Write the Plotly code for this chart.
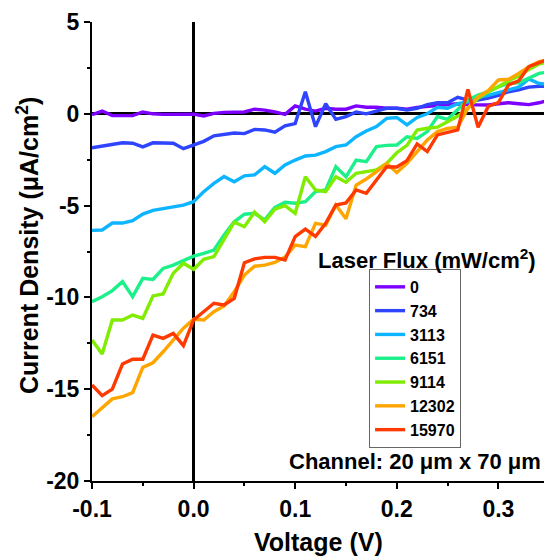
import plotly.graph_objects as go

voltage = [round(-0.10 + 0.01 * i, 2) for i in range(46)]

j_0 = [-0.05, 0.15, -0.1, -0.12, -0.1, 0.1, 0.0, -0.03, -0.03, -0.02,
       -0.02, -0.12, 0.02, 0.08, 0.1, 0.1, 0.25, 0.2, 0.1, -0.03,
       0.43, 0.25, 0.15, 0.3, 0.25, 0.25, 0.43, 0.36, 0.36, 0.3,
       0.3, 0.25, 0.35, 0.4, 0.45, 0.5, 0.55, 0.5, 0.48, 0.48,
       0.55, 0.6, 0.55, 0.5, 0.6, 0.75]
j_734 = [-1.85, -1.75, -1.68, -1.58, -1.6, -1.8, -1.58, -1.58, -1.6, -1.9,
         -1.72, -1.5, -1.2, -1.12, -1.05, -1.08, -0.85, -0.88, -1.0, -0.66,
         -0.53, 1.2, -0.7, 0.55, -0.3, -0.15, 0.1, 0.0, 0.15, 0.3,
         0.3, 0.2, 0.3, 0.5, 0.6, 0.6, 0.9, 0.75, 0.75, 0.85,
         1.0, 1.2, 1.3, 1.45, 1.5, 1.5]
j_3113 = [-6.35, -6.33, -5.95, -5.95, -5.82, -5.46, -5.26, -5.15, -5.06, -4.97,
          -4.79, -4.24, -3.79, -3.42, -3.7, -3.38, -3.33, -2.88, -3.24, -2.79,
          -2.52, -2.3, -2.25, -2.06, -1.79, -1.7, -1.25, -0.94, -0.7, -0.25,
          -0.2, -0.6, -0.2, 0.0, 0.35, 0.3, 0.55, 0.65, 0.9, 1.0,
          1.15, 1.3, 1.45, 1.9, 1.65, 1.6]
j_6151 = [-10.23, -9.96, -9.63, -9.14, -9.96, -8.96, -9.02, -8.42, -8.24, -8.0,
          -7.75, -7.6, -7.42, -6.6, -5.88, -5.47, -5.42, -5.78, -5.09, -4.82,
          -4.87, -4.79, -4.24, -4.15, -2.88, -3.43, -2.52, -2.61, -1.79, -1.72,
          -1.7, -1.25, -1.34, -0.97, -0.15, -0.3, 0.2, 0.75, 1.02, 1.2,
          1.47, 1.66, 1.69, 1.93, 2.2, 2.29]
j_9114 = [-12.32, -13.08, -11.23, -11.23, -10.96, -11.14, -9.92, -9.81, -8.69, -8.14,
          -8.47, -7.93, -7.78, -6.8, -5.9, -6.15, -5.35, -5.88, -5.2, -5.0,
          -5.42, -3.43, -4.15, -4.24, -3.43, -3.73, -3.24, -3.15, -3.06, -2.7,
          -2.12, -1.72, -0.88, -0.79, -0.73, -0.43, -0.12, 0.3, 0.84, 1.2,
          1.47, 1.8, 2.06, 2.42, 2.71, 2.85]
j_12302 = [-16.5, -15.99, -15.53, -15.41, -15.19, -13.81, -13.56, -12.96, -12.32, -11.68,
           -11.19, -11.23, -10.78, -10.47, -9.69, -8.78, -8.3, -8.24, -8.1, -7.8,
           -7.15, -7.24, -5.97, -6.06, -4.97, -5.72, -3.88, -3.55, -3.15, -2.7,
           -3.2, -2.7, -2.06, -1.43, -0.97, -0.79, -0.73, 0.3, 0.93, 1.26,
           1.84, 1.88, 2.2, 2.57, 2.84, 2.95]
j_15970 = [-14.77, -15.35, -15.0, -13.63, -13.37, -13.37, -12.05, -12.23, -11.96, -12.63,
           -11.23, -10.78, -10.32, -10.41, -10.05, -8.11, -7.9, -7.82, -7.82, -7.96,
           -6.69, -6.28, -6.68, -5.97, -4.97, -4.85, -4.15, -4.33, -3.6, -2.88,
           -2.9, -2.55, -1.64, -2.06, -1.15, -1.02, -0.88, 1.33, -0.73, 0.4,
           0.61, 1.57, 1.8, 2.57, 2.78, 3.0]

series_names = ["0", "734", "3113", "6151", "9114", "12302", "15970"]
series_values = [j_0, j_734, j_3113, j_6151, j_9114, j_12302, j_15970]
series_colors = ["#7D00FF", "#2E44FF", "#0DB4FF", "#1CF08A", "#80EC00", "#FFA500", "#FF3A00"]

x_tickvals = [-0.1, 0.0, 0.1, 0.2, 0.3]
x_ticktext = ["-0.1", "0.0", "0.1", "0.2", "0.3"]
y_tickvals = [-20, -15, -10, -5, 0, 5]
y_ticktext = ["-20", "-15", "-10", "-5", "0", "5"]

FONT = "Liberation Sans, Arial, sans-serif"

fig = go.Figure()
for name, vals, col in zip(series_names, series_values, series_colors):
    fig.add_trace(go.Scatter(x=voltage, y=vals, mode="lines", name=name,
                             line=dict(color=col, width=3.4)))

xr = [-0.1, 0.3449]
fig.update_layout(
    width=544, height=556,
    margin=dict(l=92, r=0, t=22, b=75),
    paper_bgcolor="white", plot_bgcolor="white",
    font=dict(family=FONT, color="black", weight="bold"),
    showlegend=True,
    legend=dict(x=0.613, y=0.462, xanchor="left", yanchor="top",
                bordercolor="#666666", borderwidth=1, bgcolor="white",
                font=dict(family=FONT, size=16, color="black", weight="bold"),
                tracegroupgap=0),
    xaxis=dict(range=xr, showline=True, linecolor="black", linewidth=2,
               ticks="outside", ticklen=6, tickwidth=1.5, tickcolor="black",
               tickmode="array", tickvals=x_tickvals, ticktext=x_ticktext,
               minor=dict(tickmode="linear", tick0=0, dtick=0.05, ticklen=3,
                          tickwidth=1.5, tickcolor="black", ticks="outside"),
               tickfont=dict(family=FONT, size=23, weight="bold"),
               showgrid=False, zeroline=True, zerolinecolor="black", zerolinewidth=3),
    xaxis2=dict(range=xr, overlaying="x", side="top", showline=True,
                linecolor="black", linewidth=1.5, ticks="inside", ticklen=6,
                tickwidth=1.5, tickcolor="black", dtick=0.1, tick0=0,
                minor=dict(tickmode="linear", tick0=0, dtick=0.05, ticklen=3,
                           tickwidth=1.5, tickcolor="black", ticks="inside"),
                showticklabels=False, showgrid=False, zeroline=False),
    yaxis=dict(range=[-20, 5], showline=True, linecolor="black", linewidth=2,
               ticks="outside", ticklen=6, tickwidth=1.5, tickcolor="black",
               tickmode="array", tickvals=y_tickvals, ticktext=y_ticktext,
               minor=dict(tickmode="linear", tick0=0, dtick=2.5, ticklen=3,
                          tickwidth=1.5, tickcolor="black", ticks="outside"),
               tickfont=dict(family=FONT, size=23, weight="bold"),
               showgrid=False, zeroline=True, zerolinecolor="black", zerolinewidth=3),
    annotations=[
        dict(text="Voltage (V)", x=0.5, y=-0.133, xref="paper", yref="paper",
             xanchor="center", yanchor="middle", showarrow=False,
             font=dict(family=FONT, size=25, weight="bold")),
        dict(text="Current Density (μA/cm<sup>2</sup>)", x=-0.1416, y=0.514,
             xref="paper", yref="paper", textangle=-90, xanchor="center",
             yanchor="middle", showarrow=False,
             font=dict(family=FONT, size=25, weight="bold")),
        dict(text="Laser Flux (mW/cm<sup>2</sup>)", x=0.741, y=0.4837,
             xref="paper", yref="paper", xanchor="center", yanchor="middle",
             showarrow=False, font=dict(family=FONT, size=22, weight="bold")),
        dict(text="Channel: 20 μm x 70 μm", x=0.7146, y=0.0414,
             xref="paper", yref="paper", xanchor="center", yanchor="middle",
             showarrow=False, font=dict(family=FONT, size=22, weight="bold")),
    ],
)

fig.write_html("out.html", config={"displayModeBar": False},
               post_script="document.body.style.margin='0';document.body.style.overflow='hidden';")
